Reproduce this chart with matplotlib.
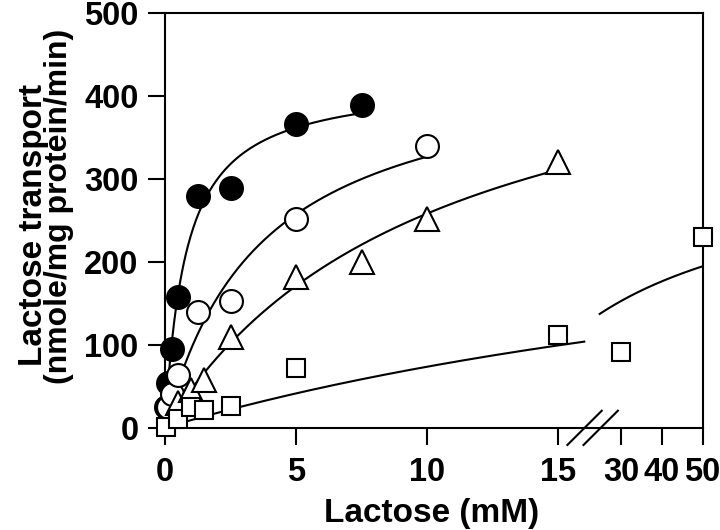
import numpy as np
import matplotlib
matplotlib.use("Agg")
import matplotlib.pyplot as plt

plt.rcParams["font.family"] = ["Liberation Sans", "DejaVu Sans"]
plt.rcParams["font.weight"] = "bold"

# measured points (lactose mM, transport nmole/mg protein/min)
filled_x = [0.05, 0.1, 0.25, 0.5, 1.25, 2.5, 5, 7.5]
filled_y = [25, 54, 95, 158, 280, 289, 366, 389]

open_x = [0.1, 0.25, 0.5, 1.25, 2.5, 5, 10]
open_y = [25, 41, 63, 139, 153, 252, 340]

tri_x = [0.5, 1, 1.5, 2.5, 5, 7.5, 10, 15]
tri_y = [30, 45, 57, 110, 182, 200, 252, 321]

sq_x = [0.05, 0.5, 1, 1.5, 2.5, 5, 15, 30, 50]
sq_y = [1, 10, 25, 21, 26, 72, 112, 91, 230]

# Michaelis-Menten fits: (Km, Vmax, x range of drawn curve)
fit_filled = (0.8, 420, 7.5)
fit_open = (3.7, 448, 10)
fit_tri = (10.4, 527, 15)
fit_sq = (35, 331, 50)

xticks = [0, 5, 10, 15, 30, 40, 50]
yticks = [0, 100, 200, 300, 400, 500]


# broken x axis: 0-16 linear, compressed 25-50 section
K_MID = (16.59 - 16) / 8.8
K_HI = 0.1557


def fwd(x):
    x = np.asarray(x, float)
    return np.where(x <= 16, x,
                    np.where(x < 24.8, 16 + (x - 16) * K_MID,
                             17.4 + (x - 30) * K_HI))


def inv(u):
    u = np.asarray(u, float)
    return np.where(u <= 16, u,
                    np.where(u < 16.59, 16 + (u - 16) / K_MID,
                             30 + (u - 17.4) / K_HI))


def mm(x, km, vmax):
    return vmax * x / (km + x)


fig = plt.figure(figsize=(7.2, 5.3), dpi=100)
ax = fig.add_axes([0.22917, 0.19302, 0.74653, 0.78189])
ax.set_xscale("function", functions=(fwd, inv))

lw = 1.5
for km, vmax, xend in (fit_filled, fit_open, fit_tri):
    xs = np.linspace(0, xend, 300)
    ax.plot(xs, mm(xs, km, vmax), color="black", lw=lw, zorder=2)
km, vmax, xend = fit_sq
for lo, hi in ((0, 16), (24.8, xend)):
    xs = np.linspace(lo, hi, 300)
    ax.plot(xs, mm(xs, km, vmax), color="black", lw=lw, zorder=2)

ax.plot(filled_x, filled_y, "o", ms=16.5, mfc="black", mec="black",
        mew=1.5, ls="none", clip_on=False, zorder=3)
ax.plot(open_x, open_y, "o", ms=16.5, mfc="white", mec="black",
        mew=1.5, ls="none", clip_on=False, zorder=4)
ax.plot(tri_x, tri_y, "^", ms=17, mfc="white", mec="black",
        mew=1.5, ls="none", clip_on=False, zorder=5)
ax.plot(sq_x, sq_y, "s", ms=13, mfc="white", mec="black",
        mew=1.5, ls="none", clip_on=False, zorder=6)

ax.set_xlim(0, 50)
ax.set_ylim(0, 500)
ax.set_xticks(xticks)
ax.set_xticklabels([str(t) for t in xticks])
ax.set_yticks(yticks)
ax.tick_params(axis="both", direction="out", length=12, width=1.5,
               labelsize=23.5)
ax.tick_params(axis="x", pad=9)
ax.tick_params(axis="y", pad=7)
for lab in ax.get_xticklabels() + ax.get_yticklabels():
    lab.set_fontweight("bold")
for sp in ax.spines.values():
    sp.set_linewidth(1.5)

# axis break marks
for x0 in (0.7486, 0.7786):
    ax.plot([x0, x0 + 0.064], [-0.0417, 0.041], color="black", lw=lw,
            transform=ax.transAxes, clip_on=False, zorder=7)

fig.text(0.6, 0.0157, "Lactose (mM)", ha="center", va="baseline",
         fontsize=24, fontweight="bold")
fig.text(42 / 720, 1 - 225 / 530, "Lactose transport", rotation=90,
         rotation_mode="anchor", ha="center", va="baseline",
         fontsize=24, fontweight="bold")
fig.text(67 / 720, 1 - 206 / 530, "(nmole/mg protein/min)", rotation=90,
         rotation_mode="anchor", ha="center", va="baseline",
         fontsize=23, fontweight="bold")

fig.savefig("out.png", dpi=100)
